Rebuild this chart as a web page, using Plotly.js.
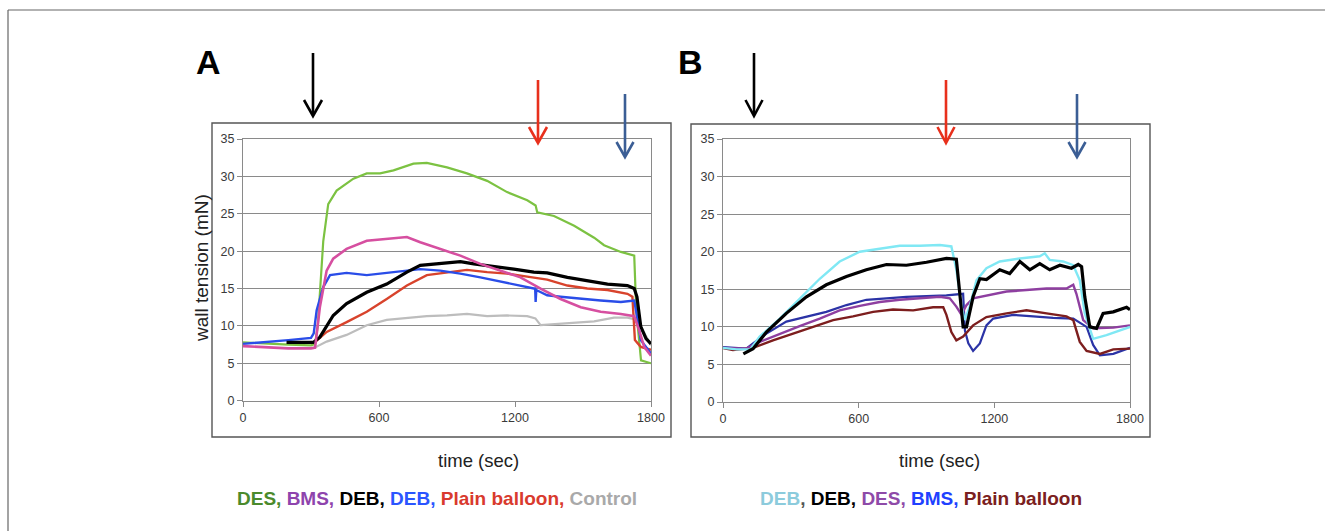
<!DOCTYPE html>
<html>
<head>
<meta charset="utf-8">
<script src="https://cdn.plot.ly/plotly-3.0.1.min.js"></script>
<style>html,body{margin:0;padding:0;background:#fff;}#chart{width:1325px;height:531px;}</style>
</head>
<body>
<div id="chart"></div>
<script>
// ---------- Panel A data ----------
const tA_green = [0,100,200,300,318,330,340,354,376,413,487,546,605,664,752,811,900,988,1077,1165,1254,1291,1298,1372,1461,1549,1593,1667,1726,1735,1756,1800];
const vA_green = [7.8,7.6,7.5,7.4,7.6,10,15,21.3,26.3,28.1,29.7,30.4,30.4,30.8,31.7,31.8,31.2,30.4,29.4,27.9,26.8,26.1,25.2,24.7,23.4,21.8,20.8,19.9,19.4,12,5.4,5.0];
const tA_pink = [0,100,200,300,318,339,369,398,457,546,634,723,782,870,959,1047,1136,1224,1313,1401,1490,1578,1667,1726,1748,1770,1800];
const vA_pink = [7.3,7.1,7.0,7.0,7.1,12.5,17.4,19.0,20.3,21.4,21.6,21.9,21.2,20.3,19.4,18.3,17.4,16.5,15.0,13.6,12.5,11.9,11.6,11.3,9.4,7.2,6.0];
const tA_blue = [0,100,200,300,312,325,354,384,457,546,634,723,782,870,959,1047,1136,1224,1283,1289,1291,1294,1342,1401,1490,1578,1667,1726,1740,1755,1800];
const vA_blue = [7.6,7.8,8.1,8.4,9,12.1,15.2,16.8,17.1,16.8,17.1,17.5,17.6,17.4,17.0,16.5,15.9,15.4,15.0,15.0,13.2,14.8,14.1,13.9,13.6,13.4,13.2,13.4,11,8.1,6.3];
const tA_black = [192,250,310,339,369,398,457,546,634,723,782,870,959,1018,1106,1195,1283,1342,1431,1519,1608,1696,1726,1738,1755,1778,1800];
const vA_black = [7.8,7.8,7.8,8.5,9.9,11.4,13.0,14.5,15.6,17.2,18.1,18.4,18.6,18.3,18.0,17.6,17.2,17.1,16.5,16.1,15.6,15.4,15.0,13.9,9.9,8.3,7.6];
const tA_red = [320,369,457,546,634,723,811,900,988,1077,1165,1254,1342,1431,1519,1608,1696,1718,1729,1755,1800];
const vA_red = [7.9,9.2,10.5,11.9,13.6,15.4,16.8,17.2,17.5,17.2,17.0,16.6,16.2,15.4,15.0,14.8,14.3,13.9,8.1,7.2,6.8];
const tA_gray = [310,369,457,546,634,723,811,900,988,1077,1165,1254,1290,1313,1372,1461,1549,1637,1696,1740,1770,1800];
const vA_gray = [7.0,7.9,8.8,10.1,10.8,11.1,11.3,11.4,11.6,11.3,11.4,11.3,11.0,10.1,10.2,10.4,10.6,11.1,11.1,10.8,9.0,7.4];

// ---------- Panel B data ----------
const tB_cyan = [0,60,120,162,251,339,428,516,605,693,782,870,959,1010,1032,1055,1069,1091,1121,1165,1224,1313,1401,1423,1445,1504,1549,1578,1600,1637,1696,1800];
const vB_cyan = [7.2,7.0,7.0,8.7,11.1,13.8,16.4,18.7,20.0,20.4,20.8,20.8,20.9,20.7,17.6,12.7,10.9,12.7,16.2,17.8,18.7,19.1,19.4,19.8,18.9,18.7,18.2,16.2,11.8,8.4,8.9,10.0];
const tB_black = [90,133,192,280,369,457,546,634,723,811,900,959,988,1032,1047,1062,1077,1106,1136,1165,1224,1268,1313,1357,1401,1445,1490,1541,1571,1586,1600,1622,1652,1681,1726,1785,1800];
const vB_black = [6.4,7.1,9.3,11.8,14.0,15.6,16.7,17.6,18.3,18.2,18.6,19.0,19.1,19.0,14.0,10.0,10.0,14.0,16.4,16.3,17.6,17.1,18.7,17.6,18.4,17.6,18.2,17.8,18.3,18.0,14.0,10.0,9.8,11.8,12.0,12.6,12.3];
const tB_purple = [0,103,162,251,339,428,516,605,693,782,870,959,1003,1032,1055,1077,1106,1165,1254,1342,1431,1519,1549,1563,1593,1637,1726,1800];
const vB_purple = [7.2,7.1,8.0,9.1,10.1,11.1,12.2,12.8,13.3,13.6,13.8,14.0,13.8,12.7,11.6,12.9,13.8,14.2,14.7,14.9,15.1,15.1,15.6,14.4,10.9,9.8,9.9,10.2];
const tB_navy = [0,103,133,192,280,369,457,546,634,723,811,900,988,1062,1070,1085,1106,1136,1165,1195,1283,1372,1460,1549,1608,1637,1667,1726,1800];
const vB_navy = [7.3,7.1,7.8,9.1,10.7,11.4,12.0,12.9,13.6,13.8,14.0,14.1,14.2,14.4,9.5,7.8,6.8,7.8,10.2,11.1,11.6,11.4,11.2,11.1,10.0,7.6,6.2,6.4,7.2];
const tB_darkred = [0,44,133,221,310,398,487,575,664,752,841,929,974,988,1010,1032,1062,1106,1165,1254,1342,1431,1519,1549,1578,1608,1667,1726,1800];
const vB_darkred = [7.2,6.9,7.2,8.2,9.1,10.0,10.9,11.4,12.0,12.3,12.2,12.6,12.6,11.6,9.3,8.2,8.7,10.2,11.3,11.8,12.2,11.8,11.4,10.9,8.0,6.8,6.4,7.0,7.1];

// ---------- Tick values / labels ----------
const xTicks = [0, 600, 1200, 1800];
const yTicks = [0, 5, 10, 15, 20, 25, 30, 35];

const W = 1325, H = 531;
const px = x => x / W;
const py = y => 1 - y / H;

function tr(t, v, color, width, xa, ya) {
  return {x: t, y: v, type: 'scatter', mode: 'lines', xaxis: xa, yaxis: ya,
    line: {color: color, width: width}, hoverinfo: 'skip', showlegend: false};
}

const data = [
  tr(tA_gray, vA_gray, '#bdbdbd', 2.2, 'x', 'y'),
  tr(tA_green, vA_green, '#7cc242', 2.2, 'x', 'y'),
  tr(tA_red, vA_red, '#d8432c', 2.4, 'x', 'y'),
  tr(tA_blue, vA_blue, '#2a4de8', 2.4, 'x', 'y'),
  tr(tA_black, vA_black, '#000000', 3.2, 'x', 'y'),
  tr(tA_pink, vA_pink, '#d64fa0', 2.6, 'x', 'y'),
  tr(tB_navy, vB_navy, '#2b33a6', 2.2, 'x2', 'y2'),
  tr(tB_darkred, vB_darkred, '#7d1e1e', 2.4, 'x2', 'y2'),
  tr(tB_purple, vB_purple, '#8e3fa0', 2.4, 'x2', 'y2'),
  tr(tB_cyan, vB_cyan, '#80e8f4', 2.4, 'x2', 'y2'),
  tr(tB_black, vB_black, '#000000', 3.2, 'x2', 'y2')
];

const font = 'Liberation Sans, Arial, sans-serif';
function xax(domain, anchor) {
  return {domain: domain, anchor: anchor, range: [0, 1800], tickvals: xTicks, ticktext: xTicks.map(String),
    showgrid: false, zeroline: false, showline: true, mirror: true, linecolor: '#8a8a8a', linewidth: 1,
    ticks: 'outside', ticklen: 5, tickcolor: '#8a8a8a', tickfont: {family: font, size: 12.5, color: '#3a3a3a'}};
}
function yax(domain, anchor) {
  return {domain: domain, anchor: anchor, range: [0, 35], tickvals: yTicks, ticktext: yTicks.map(String),
    showgrid: true, gridcolor: '#8a8a8a', gridwidth: 1, zeroline: false, showline: true, mirror: true,
    linecolor: '#8a8a8a', linewidth: 1, ticks: 'outside', ticklen: 5, tickcolor: '#8a8a8a',
    tickfont: {family: font, size: 12.5, color: '#3a3a3a'}};
}

function arrow(x, yTop, yTip, yWing, half, color) {
  return [
    {type: 'line', xref: 'paper', yref: 'paper', x0: px(x), x1: px(x), y0: py(yTop), y1: py(yTip - 1),
      line: {color: color, width: 2.6}},
    {type: 'path', xref: 'paper', yref: 'paper',
      path: `M ${px(x - half)} ${py(yWing)} L ${px(x)} ${py(yTip)} L ${px(x + half)} ${py(yWing)}`,
      line: {color: color, width: 2.6}}
  ];
}

const shapes = [
  {type: 'line', xref: 'paper', yref: 'paper', x0: px(8), x1: 1, y0: py(10), y1: py(10), line: {color: '#666', width: 1.2}},
  {type: 'line', xref: 'paper', yref: 'paper', x0: px(8), x1: px(8), y0: py(10), y1: 0, line: {color: '#666', width: 1.2}},
  {type: 'rect', xref: 'paper', yref: 'paper', x0: px(212), x1: px(671), y0: py(123), y1: py(437), line: {color: '#555', width: 1.4}},
  {type: 'rect', xref: 'paper', yref: 'paper', x0: px(691), x1: px(1150), y0: py(124), y1: py(437), line: {color: '#555', width: 1.4}},
  ...arrow(313, 53, 116, 100, 9, '#000000'),
  ...arrow(538, 80, 143, 127, 9, '#e8301c'),
  ...arrow(625, 94, 157, 142, 8.5, '#3b5e95'),
  ...arrow(754, 53, 116, 100, 8.5, '#000000'),
  ...arrow(946, 80, 143, 127, 8.5, '#e8301c'),
  ...arrow(1077, 94, 157, 142, 8.5, '#3b5e95')
];

const legA = '<span style="color:#4b8a2c">DES,</span> <span style="color:#8e44ad">BMS,</span> <span style="color:#000">DEB,</span> <span style="color:#2b55ff">DEB,</span> <span style="color:#d93a2e">Plain balloon,</span> <span style="color:#a9a9a9">Control</span>';
const legB = '<span style="color:#8ccbdc">DEB</span><span style="color:#555">,</span> <span style="color:#000">DEB,</span> <span style="color:#8e4aa8">DES,</span> <span style="color:#2040ff">BMS,</span> <span style="color:#7b2020">Plain balloon</span>';

function ann(x, y, text, size, color, extra) {
  return Object.assign({xref: 'paper', yref: 'paper', x: px(x), y: py(y), xanchor: 'center', yanchor: 'middle',
    text: text, showarrow: false, font: {family: font, size: size, color: color}}, extra || {});
}

const annotations = [
  ann(208, 62, '<b>A</b>', 34, '#000'),
  ann(690, 62, '<b>B</b>', 34, '#000'),
  ann(201, 268, 'wall tension (mN)', 19, '#222', {textangle: -90}),
  ann(478, 460, 'time (sec)', 18.5, '#222'),
  ann(939, 460, 'time (sec)', 18.5, '#222'),
  ann(437, 498, '<b>' + legA + '</b>', 19, '#000'),
  ann(921, 498, '<b>' + legB + '</b>', 19, '#000')
];

const layout = {
  width: W, height: H, margin: {l: 0, r: 0, t: 0, b: 0},
  paper_bgcolor: '#fff', plot_bgcolor: '#fff', showlegend: false,
  xaxis: xax([243 / W, 651 / W], 'y'),
  yaxis: yax([(H - 400.7) / H, (H - 139) / H], 'x'),
  xaxis2: xax([723 / W, 1130 / W], 'y2'),
  yaxis2: yax([(H - 402) / H, (H - 139) / H], 'x2'),
  shapes: shapes, annotations: annotations
};

Plotly.newPlot('chart', data, layout, {staticPlot: true, displayModeBar: false});
</script>
</body>
</html>
